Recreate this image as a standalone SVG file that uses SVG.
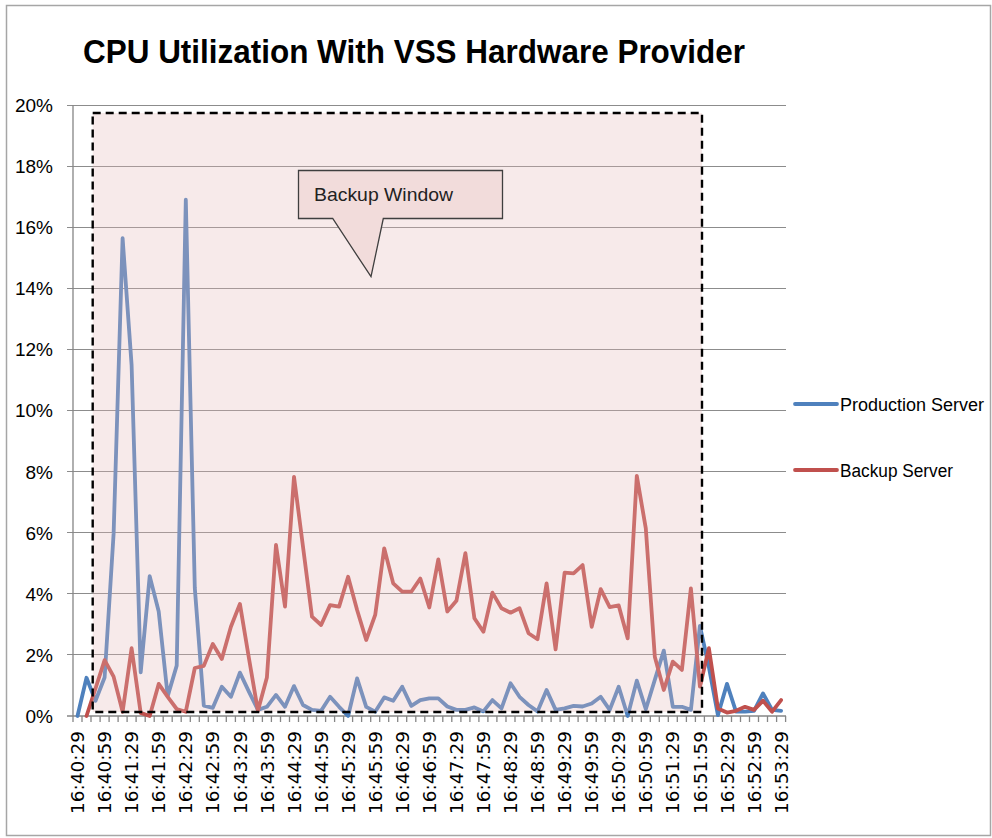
<svg xmlns="http://www.w3.org/2000/svg" width="992" height="838" viewBox="0 0 992 838">
<style>
.grid{stroke:#8c8c8c;stroke-width:1;fill:none}
.axis{stroke:#868686;stroke-width:1.3;fill:none}
.ser{fill:none;stroke-width:3.8;stroke-linejoin:round;stroke-linecap:round}
.prod{stroke:#4f81bd}
.back{stroke:#c0504d}
.ylab{font-family:"Liberation Sans",Arial,sans-serif;font-size:19px;fill:#000;text-anchor:end}
.xlab{font-family:"DejaVu Sans",Verdana,sans-serif;font-size:18.5px;fill:#000;text-anchor:end}
.leg{font-family:"Liberation Sans",Arial,sans-serif;font-size:18px;fill:#000}
</style>
<rect x="0" y="0" width="992" height="838" fill="#ffffff"/>
<rect x="6.5" y="5.5" width="984" height="830" fill="none" stroke="#a6a6a6" stroke-width="1.5"/>
<g id="title">
<text x="83" y="63" font-family="'Liberation Sans',Arial,sans-serif" font-weight="bold" font-size="33" textLength="662" lengthAdjust="spacingAndGlyphs" fill="#000">CPU Utilization With VSS Hardware  Provider</text>
</g>
<g id="gridlines">
<path class="grid" d="M67 105.5H786M67 166.5H786M67 227.5H786M67 288.5H786M67 349.5H786M67 410.5H786M67 471.5H786M67 532.5H786M67 593.5H786M67 654.5H786"/>
</g>
<g id="axes">
<path class="axis" d="M73 105V716M67 716H786"/>
<path class="axis" stroke-width="1" d="M73 716v6M82 716v6M91 716v6M100.1 716v6M109.1 716v6M118.1 716v6M127.1 716v6M136.1 716v6M145.2 716v6M154.2 716v6M163.2 716v6M172.2 716v6M181.2 716v6M190.3 716v6M199.3 716v6M208.3 716v6M217.3 716v6M226.3 716v6M235.4 716v6M244.4 716v6M253.4 716v6M262.4 716v6M271.4 716v6M280.5 716v6M289.5 716v6M298.5 716v6M307.5 716v6M316.5 716v6M325.6 716v6M334.6 716v6M343.6 716v6M352.6 716v6M361.6 716v6M370.7 716v6M379.7 716v6M388.7 716v6M397.7 716v6M406.7 716v6M415.8 716v6M424.8 716v6M433.8 716v6M442.8 716v6M451.8 716v6M460.9 716v6M469.9 716v6M478.9 716v6M487.9 716v6M496.9 716v6M506 716v6M515 716v6M524 716v6M533 716v6M542 716v6M551.1 716v6M560.1 716v6M569.1 716v6M578.1 716v6M587.1 716v6M596.2 716v6M605.2 716v6M614.2 716v6M623.2 716v6M632.2 716v6M641.3 716v6M650.3 716v6M659.3 716v6M668.3 716v6M677.3 716v6M686.4 716v6M695.4 716v6M704.4 716v6M713.4 716v6M722.4 716v6M731.5 716v6M740.5 716v6M749.5 716v6M758.5 716v6M767.5 716v6M776.6 716v6M785.6 716v6"/>
</g>
<g id="y-labels">
<text class="ylab" x="53" y="112">20%</text>
<text class="ylab" x="53" y="173">18%</text>
<text class="ylab" x="53" y="234">16%</text>
<text class="ylab" x="53" y="295">14%</text>
<text class="ylab" x="53" y="356">12%</text>
<text class="ylab" x="53" y="417">10%</text>
<text class="ylab" x="53" y="479">8%</text>
<text class="ylab" x="53" y="540">6%</text>
<text class="ylab" x="53" y="601">4%</text>
<text class="ylab" x="53" y="662">2%</text>
<text class="ylab" x="53" y="723">0%</text>
</g>
<g id="x-labels">
<text class="xlab" transform="translate(84.1,731) rotate(-90)">16:40:29</text>
<text class="xlab" transform="translate(111.2,731) rotate(-90)">16:40:59</text>
<text class="xlab" transform="translate(138.2,731) rotate(-90)">16:41:29</text>
<text class="xlab" transform="translate(165.3,731) rotate(-90)">16:41:59</text>
<text class="xlab" transform="translate(192.4,731) rotate(-90)">16:42:29</text>
<text class="xlab" transform="translate(219.4,731) rotate(-90)">16:42:59</text>
<text class="xlab" transform="translate(246.5,731) rotate(-90)">16:43:29</text>
<text class="xlab" transform="translate(273.5,731) rotate(-90)">16:43:59</text>
<text class="xlab" transform="translate(300.6,731) rotate(-90)">16:44:29</text>
<text class="xlab" transform="translate(327.7,731) rotate(-90)">16:44:59</text>
<text class="xlab" transform="translate(354.7,731) rotate(-90)">16:45:29</text>
<text class="xlab" transform="translate(381.8,731) rotate(-90)">16:45:59</text>
<text class="xlab" transform="translate(408.8,731) rotate(-90)">16:46:29</text>
<text class="xlab" transform="translate(435.9,731) rotate(-90)">16:46:59</text>
<text class="xlab" transform="translate(463,731) rotate(-90)">16:47:29</text>
<text class="xlab" transform="translate(490,731) rotate(-90)">16:47:59</text>
<text class="xlab" transform="translate(517.1,731) rotate(-90)">16:48:29</text>
<text class="xlab" transform="translate(544.1,731) rotate(-90)">16:48:59</text>
<text class="xlab" transform="translate(571.2,731) rotate(-90)">16:49:29</text>
<text class="xlab" transform="translate(598.3,731) rotate(-90)">16:49:59</text>
<text class="xlab" transform="translate(625.3,731) rotate(-90)">16:50:29</text>
<text class="xlab" transform="translate(652.4,731) rotate(-90)">16:50:59</text>
<text class="xlab" transform="translate(679.4,731) rotate(-90)">16:51:29</text>
<text class="xlab" transform="translate(706.5,731) rotate(-90)">16:51:59</text>
<text class="xlab" transform="translate(733.6,731) rotate(-90)">16:52:29</text>
<text class="xlab" transform="translate(760.6,731) rotate(-90)">16:52:59</text>
<text class="xlab" transform="translate(787.7,731) rotate(-90)">16:53:29</text>
</g>
<g id="series">
<polyline id="production-server" class="ser prod" points="77.5,716 86.5,677.8 95.5,700.7 104.6,677.5 113.6,533.9 122.6,238.2 131.6,365 140.7,672.3 149.7,576.1 158.7,611.5 167.7,696.1 176.7,665.6 185.8,199.7 194.8,588 203.8,705.6 212.8,707.8 221.8,686.7 230.9,696.8 239.9,672.6 248.9,691.6 257.9,709.9 266.9,706.8 276,694.9 285,706.8 294,686.1 303,705 312,709.9 321.1,710.8 330.1,696.8 339.1,706.8 348.1,716 357.1,678.4 366.2,706.8 375.2,711.7 384.2,697.4 393.2,700.7 402.2,686.7 411.3,705.9 420.3,700.1 429.3,698.3 438.3,698.3 447.3,706.5 456.4,709.9 465.4,709.9 474.4,707.4 483.4,711.4 492.4,700.1 501.5,708.4 510.5,683.3 519.5,696.8 528.5,705 537.5,711.4 546.6,690 555.6,709.9 564.6,708.4 573.6,705.9 582.6,706.5 591.7,703.5 600.7,696.8 609.7,709.9 618.7,686.7 627.7,716 636.8,680.6 645.8,709.3 654.8,679.9 663.8,650.6 672.8,706.8 681.9,706.8 690.9,709.9 699.9,625.9 708.9,667.1 717.9,715.1 727,683.9 736,711.7 745,711.7 754,710.8 763,693.4 772.1,709.9 781.1,710.8"/>
<polyline id="backup-server" class="ser back" points="86.5,716 95.5,688.5 104.6,660.1 113.6,676.6 122.6,711.7 131.6,648.2 140.7,712.9 149.7,716 158.7,683.9 167.7,696.8 176.7,709 185.8,711.7 194.8,668 203.8,665.9 212.8,643.9 221.8,658.9 230.9,626.8 239.9,603.9 248.9,658 257.9,710.8 266.9,677.5 276,544.9 285,606.6 294,476.8 303,546.8 312,616.7 321.1,625 330.1,605.1 339.1,606.6 348.1,576.7 357.1,610 366.2,640 375.2,614.9 384.2,548.3 393.2,583.4 402.2,591.7 411.3,591.7 420.3,578.5 429.3,607.5 438.3,559.3 447.3,611.5 456.4,600.8 465.4,553.2 474.4,618.2 483.4,631.7 492.4,592.6 501.5,608.2 510.5,612.7 519.5,608.2 528.5,633.2 537.5,639.3 546.6,583.4 555.6,649.4 564.6,572.7 573.6,573.3 582.6,565.1 591.7,626.8 600.7,589.2 609.7,607.2 618.7,605.4 627.7,638.4 636.8,475.9 645.8,528.4 654.8,656.7 663.8,690 672.8,661.6 681.9,669.9 690.9,588.3 699.9,686.7 708.9,648.2 717.9,708.4 727,712.6 736,710.8 745,706.8 754,709.9 763,700.7 772.1,711.7 781.1,700.1"/>
</g>
<g id="backup-window">
<rect x="92.7" y="113" width="609.3" height="599" fill="#e6b9b8" fill-opacity="0.3" stroke="#000" stroke-width="2.4" stroke-dasharray="8 5"/>
</g>
<g id="callout">
<path d="M298.5,170.5H502.5V218.5H383.3L371,276.7L332.7,218.5H298.5Z" fill="#f2dcdb" stroke="#3f3f3f" stroke-width="1.3" stroke-linejoin="miter"/>
<text x="314" y="200.5" font-family="'Liberation Sans',Arial,sans-serif" font-size="19" textLength="139" lengthAdjust="spacingAndGlyphs" fill="#222">Backup Window</text>
</g>
<g id="legend">
<line x1="795" y1="404" x2="837" y2="404" class="ser prod"/>
<text class="leg" x="840" y="410.5">Production Server</text>
<line x1="795" y1="470" x2="837" y2="470" class="ser back"/>
<text class="leg" x="840" y="476.5" textLength="113" lengthAdjust="spacingAndGlyphs">Backup Server</text>
</g>
</svg>
